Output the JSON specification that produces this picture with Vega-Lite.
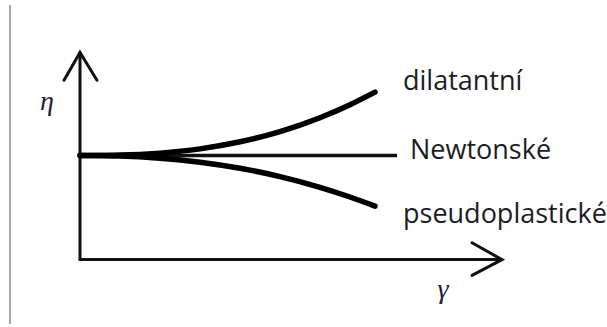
{
  "$schema": "https://vega.github.io/schema/vega-lite/v6.json",
  "width": 607,
  "height": 327,
  "padding": 0,
  "autosize": {"type": "fit", "contains": "padding"},
  "background": "white",
  "config": {"view": {"stroke": null}},
  "datasets": {
    "paths": [
      {"part": "border", "x": -1.75, "y": 6.425, "o": 0},
      {"part": "border", "x": -1.75, "y": -1.625, "o": 1},
      {"part": "yaxis", "x": 0, "y": 0, "o": 0},
      {"part": "yaxis", "x": 0, "y": 5.225, "o": 1},
      {"part": "yarrow", "x": -0.4, "y": 4.525, "o": 0},
      {"part": "yarrow", "x": 0, "y": 5.225, "o": 1},
      {"part": "yarrow", "x": 0.425, "y": 4.525, "o": 2},
      {"part": "xaxis", "x": 0, "y": 0, "o": 0},
      {"part": "xaxis", "x": 10.55, "y": 0, "o": 1},
      {"part": "xarrow", "x": 9.8, "y": 0.425, "o": 0},
      {"part": "xarrow", "x": 10.55, "y": 0, "o": 1},
      {"part": "xarrow", "x": 9.8, "y": -0.4, "o": 2},
      {"part": "newton", "x": 0, "y": 2.625, "o": 0},
      {"part": "newton", "x": 7.925, "y": 2.625, "o": 1},
      {"part": "dilatant", "x": 0, "y": 2.625, "o": 0},
      {"part": "dilatant", "x": 1, "y": 2.636, "o": 1},
      {"part": "dilatant", "x": 2, "y": 2.686, "o": 2},
      {"part": "dilatant", "x": 3, "y": 2.794, "o": 3},
      {"part": "dilatant", "x": 4, "y": 2.972, "o": 4},
      {"part": "dilatant", "x": 5, "y": 3.23, "o": 5},
      {"part": "dilatant", "x": 6, "y": 3.58, "o": 6},
      {"part": "dilatant", "x": 6.75, "y": 3.908, "o": 7},
      {"part": "dilatant", "x": 7.375, "y": 4.225, "o": 8},
      {"part": "pseudo", "x": 0, "y": 2.625, "o": 0},
      {"part": "pseudo", "x": 1, "y": 2.611, "o": 1},
      {"part": "pseudo", "x": 2, "y": 2.557, "o": 2},
      {"part": "pseudo", "x": 3, "y": 2.457, "o": 3},
      {"part": "pseudo", "x": 4, "y": 2.305, "o": 4},
      {"part": "pseudo", "x": 5, "y": 2.095, "o": 5},
      {"part": "pseudo", "x": 6, "y": 1.825, "o": 6},
      {"part": "pseudo", "x": 6.75, "y": 1.58, "o": 7},
      {"part": "pseudo", "x": 7.375, "y": 1.35, "o": 8}
    ],
    "labels": [
      {"text": "dilatantní", "x": 8.075, "y": 4.47},
      {"text": "Newtonské", "x": 8.25, "y": 2.74},
      {"text": "pseudoplastické", "x": 8.075, "y": 1.12}
    ],
    "symbols": [
      {"text": "η", "x": -0.825, "y": 3.98},
      {"text": "γ", "x": 9.075, "y": -0.76}
    ]
  },
  "encoding": {
    "x": {"field": "x", "type": "quantitative", "axis": null, "scale": {"domain": [-2, 13.175], "nice": false, "zero": false}},
    "y": {"field": "y", "type": "quantitative", "axis": null, "scale": {"domain": [-1.625, 6.55], "nice": false, "zero": false}}
  },
  "layer": [
    {
      "data": {"name": "paths"},
      "transform": [{"filter": "datum.part === 'border'"}],
      "mark": {"type": "line", "stroke": "#8a8a8a", "strokeWidth": 1.5},
      "encoding": {"order": {"field": "o", "type": "quantitative"}, "detail": {"field": "part"}}
    },
    {
      "data": {"name": "paths"},
      "transform": [{"filter": "indexof(['yaxis','yarrow','xaxis','xarrow'], datum.part) >= 0"}],
      "mark": {"type": "line", "stroke": "#111", "strokeWidth": 3, "strokeJoin": "miter", "strokeCap": "round"},
      "encoding": {"order": {"field": "o", "type": "quantitative"}, "detail": {"field": "part"}}
    },
    {
      "data": {"name": "paths"},
      "transform": [{"filter": "datum.part === 'newton'"}],
      "mark": {"type": "line", "stroke": "#111", "strokeWidth": 3.5},
      "encoding": {"order": {"field": "o", "type": "quantitative"}, "detail": {"field": "part"}}
    },
    {
      "data": {"name": "paths"},
      "transform": [{"filter": "datum.part === 'dilatant' || datum.part === 'pseudo'"}],
      "mark": {"type": "line", "stroke": "#000", "strokeWidth": 5.5, "interpolate": "monotone", "strokeCap": "round"},
      "encoding": {"order": {"field": "o", "type": "quantitative"}, "detail": {"field": "part"}}
    },
    {
      "data": {"name": "labels"},
      "mark": {"type": "text", "font": "Open Sans", "fontSize": 27, "align": "left", "baseline": "middle", "color": "#1c1c24"},
      "encoding": {"text": {"field": "text"}}
    },
    {
      "data": {"name": "symbols"},
      "mark": {"type": "text", "font": "Liberation Serif", "fontStyle": "italic", "fontSize": 28, "align": "center", "baseline": "middle", "color": "#1c2238"},
      "encoding": {"text": {"field": "text"}}
    }
  ]
}
